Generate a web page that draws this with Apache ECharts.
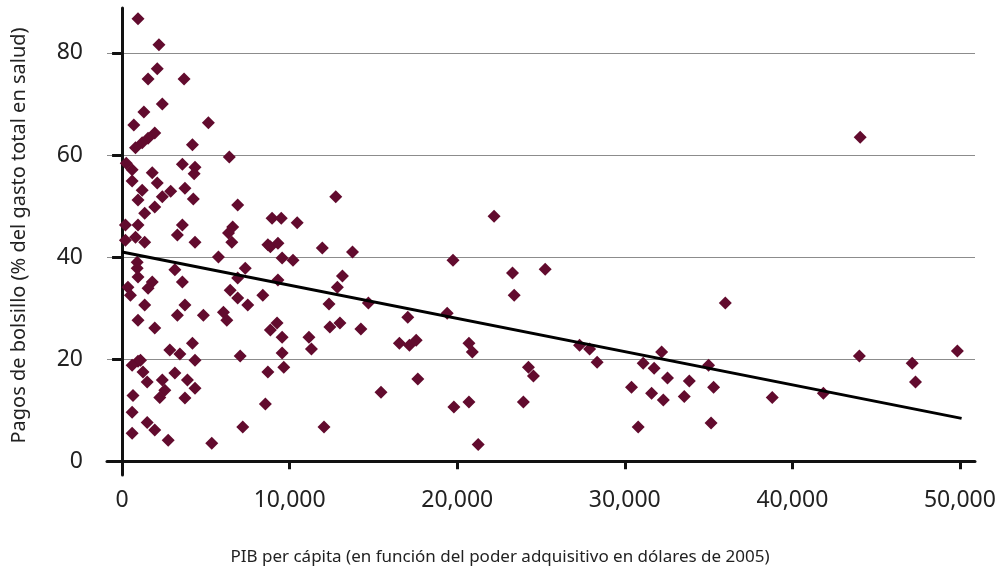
<!DOCTYPE html>
<html>
<head>
<meta charset="utf-8">
<script src="https://cdn.jsdelivr.net/npm/echarts@6/dist/echarts.min.js"></script>
<style>
html, body { margin: 0; padding: 0; background: #fff; }
#echarts { width: 1000px; height: 581px; }
</style>
</head>
<body>
<div id="echarts"></div>
<script>
// PIB per cápita (x) y pagos de bolsillo (y)
var gdp = [950, 2200, 2100, 1550, 3700, 2400, 1300, 5150, 700, 1950,
           1550, 1200, 800, 4200, 6400, 250, 3600, 4350, 4300, 600,
           600, 1800, 2100, 1200, 2900, 3750, 2400, 4250, 950, 6900,
           1950, 1350, 200, 950, 3600, 6600, 8950, 200, 800, 1350,
           3300, 4350, 6350, 6550, 8700, 5750, 900, 900, 950, 3150,
           3600, 7350, 6900, 1800, 1550, 350, 500, 6450, 6900, 7500,
           8400, 1350, 3750, 3300, 4850, 6050, 6250, 950, 1950, 8850,
           4200, 2850, 3450, 4350, 7050, 950, 600, 1250, 1500, 3150,
           2400, 3900, 2550, 2250, 4350, 3750, 650, 8700, 8550, 600,
           1500, 1950, 600, 2750, 5350, 7200, 1100,
           12750, 9500, 10450, 8850, 9300, 11950, 13750, 9550, 10200, 19750,
           9300, 13150, 12850, 12350, 14700, 17050, 19400, 9250, 9550, 11150,
           11300, 12400, 13000, 14250, 9550, 9650, 16550, 17150, 17550, 17650,
           15450, 12050, 19800, 22200, 23300, 25250, 23400, 20700, 20900, 20700,
           21250, 24250, 24550, 23950, 36000, 27300, 27900, 28350, 32200, 31100,
           31750, 32550, 33850, 35000, 30400, 31600, 32300, 33550, 35300, 30800,
           35150, 38800, 41850, 44000, 47150, 47350, 49850, 44050];
var oop = [86.7, 81.6, 76.9, 74.9, 74.9, 70.0, 68.4, 66.3, 65.9, 64.3,
           63.3, 62.4, 61.4, 62.0, 59.6, 58.4, 58.2, 57.6, 56.3, 57.1,
           54.9, 56.5, 54.5, 53.1, 52.9, 53.5, 51.8, 51.4, 51.2, 50.2,
           49.8, 48.6, 46.3, 46.3, 46.3, 45.9, 47.6, 43.3, 43.9, 42.9,
           44.3, 42.9, 44.7, 42.9, 42.4, 40.0, 39.0, 37.8, 36.1, 37.5,
           35.1, 37.8, 35.9, 35.1, 33.9, 34.1, 32.5, 33.5, 32.0, 30.6,
           32.5, 30.6, 30.6, 28.6, 28.6, 29.2, 27.6, 27.6, 26.1, 25.7,
           23.1, 21.8, 21.0, 19.8, 20.6, 19.6, 18.8, 17.5, 15.5, 17.3,
           15.9, 15.9, 13.9, 12.5, 14.3, 12.4, 12.9, 17.5, 11.2, 9.6,
           7.6, 6.1, 5.5, 4.1, 3.5, 6.7, 19.8,
           51.8, 47.6, 46.7, 42.0, 42.7, 41.8, 41.0, 39.8, 39.4, 39.4,
           35.5, 36.3, 34.1, 30.8, 31.0, 28.2, 29.0, 27.1, 24.3, 24.3,
           22.0, 26.3, 27.1, 25.9, 21.2, 18.4, 23.1, 22.7, 23.7, 16.1,
           13.5, 6.7, 10.6, 48.0, 36.9, 37.6, 32.5, 23.1, 21.4, 11.6,
           3.3, 18.4, 16.7, 11.6, 31.0, 22.7, 22.0, 19.4, 21.4, 19.2,
           18.2, 16.3, 15.7, 18.8, 14.5, 13.3, 12.0, 12.7, 14.5, 6.7,
           7.5, 12.5, 13.3, 20.6, 19.2, 15.5, 21.6, 63.5];
// recta de tendencia
var trendX = [0, 50100];
var trendY = [41.0, 8.4];
// marcas de los ejes
var xTicks = [0, 10000, 20000, 30000, 40000, 50000];
var yTicks = [0, 20, 40, 60, 80];

window.onload = function(){
    var points = [];
    for (var i = 0; i < gdp.length; i++) {
        points.push([gdp[i], oop[i]]);
    }
    var trend = [];
    for (var j = 0; j < trendX.length; j++) {
        trend.push([trendX[j], trendY[j]]);
    }

    var font = 'Noto Sans';
    var option = {
        backgroundColor: '#fff',
        animation: false,
        grid: {   //posición
            left: 107,
            right: 25,
            top: 8,
            bottom: 106
        },
        xAxis: {
            type: 'value',
            min: -900,
            max: 50900,
            name: 'PIB per cápita (en función del poder adquisitivo en dólares de 2005)',
            nameLocation: 'middle',
            nameGap: 74,
            nameTextStyle: {
                color: '#222',
                fontFamily: font,
                fontSize: 17,
                padding: [0, 82, 0, 0]
            },
            axisLine: {
                show: true,
                lineStyle: { color: '#111', width: 3 }
            },
            axisTick: {
                show: true,
                inside: false,
                length: 8,
                customValues: xTicks,
                lineStyle: { color: '#111', width: 3 }
            },
            axisLabel: {
                customValues: xTicks,
                margin: 14,
                color: '#222',
                fontFamily: font,
                fontSize: 23,
                formatter: function (value) {
                    return value.toString().replace(/\B(?=(\d{3})+(?!\d))/g, ',');
                }
            },
            splitLine: { show: false }
        },
        yAxis: {
            type: 'value',
            min: -2.7,
            max: 88.8,
            name: 'Pagos de bolsillo (% del gasto total en salud)',
            nameLocation: 'middle',
            nameGap: 78,
            nameTextStyle: {
                color: '#222',
                fontFamily: font,
                fontSize: 20,
                padding: [0, 0, 0, 12]
            },
            axisLine: {
                show: true,
                lineStyle: { color: '#111', width: 3 }
            },
            axisTick: {
                show: true,
                inside: false,
                length: 10,
                customValues: yTicks,
                lineStyle: { color: '#111', width: 3 }
            },
            axisLabel: {
                customValues: yTicks,
                margin: 24,
                color: '#222',
                fontFamily: font,
                fontSize: 23
            },
            splitLine: {
                show: true,
                lineStyle: { color: '#8c8c8c', width: 1 }
            }
        },
        series: [{
            name: 'países',
            type: 'scatter',
            symbol: 'diamond',
            symbolSize: 13,
            itemStyle: { color: '#620b2e', opacity: 1 },
            data: points,
            z: 3
        }, {
            name: 'tendencia',
            type: 'line',
            data: trend,
            symbol: 'none',
            silent: true,
            lineStyle: { color: '#000', width: 3 },
            z: 4
        }]
    };

    var myChart = echarts.init(document.getElementById('echarts'));
    myChart.setOption(option);
    window.onresize = function(){
        myChart.resize();
    };
};
</script>
</body>
</html>
